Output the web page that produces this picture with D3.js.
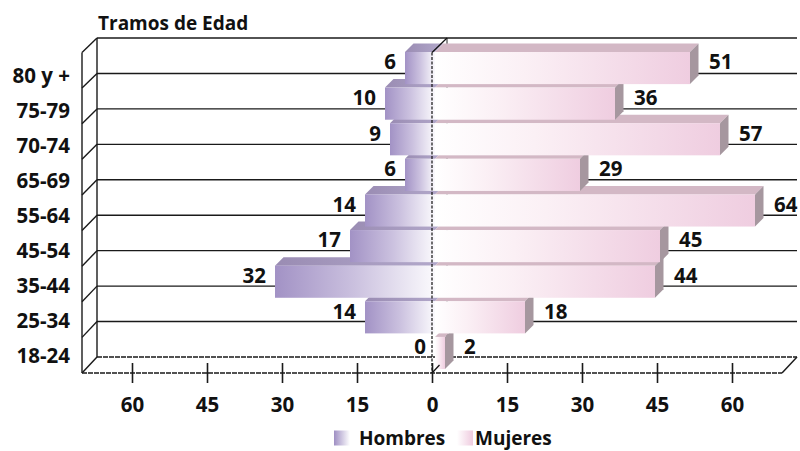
<!DOCTYPE html>
<html><head><meta charset="utf-8">
<script src="https://cdn.jsdelivr.net/npm/d3@7"></script>
<style>
html,body{margin:0;padding:0;background:#fff;}
text{font-family:"Open Sans",sans-serif;font-weight:700;fill:#111;}
</style></head>
<body><svg id="c" width="800" height="451"></svg>
<script>
const categories = ["80 y +","75-79","70-74","65-69","55-64","45-54","35-44","25-34","18-24"];
const hombres = [6,10,9,6,14,17,32,14,0];
const mujeres = [51,36,57,29,64,45,44,18,2];
const tickValues = [-60,-45,-30,-15,0,15,30,45,60];
const seriesNames = ["Hombres","Mujeres"];
const axisTitle = "Tramos de Edad";

const svg = d3.select("#c");
svg.append("rect").attr("width",800).attr("height",451).attr("fill","#fff");

// geometry
const floorY = 373, topY = 52.5;
const wallDX = 15, wallDY = 16;
const barDX = 8.5, barDY = 8.5, barSX = 3, barSY = 4;

const x = d3.scaleLinear().domain([-70,70]).range([82,782]);
const y = d3.scaleBand().domain(categories).range([topY, floorY]).paddingInner(0).paddingOuter(0);
const yl = d3.scalePoint().domain(categories).range([83,363]);

// defs
const defs = svg.append("defs");
function lg(id, stops){
  const g = defs.append("linearGradient").attr("id",id).attr("x1","0").attr("x2","1").attr("y1","0").attr("y2","0");
  stops.forEach(s=>g.append("stop").attr("offset",s[0]).attr("stop-color",s[1]));
}
lg("hFront",[[0,"#a292c5"],[0.5,"#cbc1df"],[1,"#fbfafd"]]);
lg("hTop",[[0,"#9a8cb3"],[1,"#b3a9cb"]]);
lg("mFront",[[0,"#ffffff"],[0.35,"#fbf0f5"],[1,"#efcde0"]]);
lg("hLeg",[[0,"#9f8fc3"],[1,"#ffffff"]]);
lg("mLeg",[[0,"#ffffff"],[1,"#efcbdf"]]);

const grid = svg.append("g");
const bstep = (floorY - wallDY - 38)/categories.length;
for(let k=1;k<=categories.length;k++){
  const yy = floorY - wallDY - k*bstep;
  grid.append("line").attr("x1",x(-70)+wallDX).attr("x2",x(70)+wallDX)
    .attr("y1",yy).attr("y2",yy).attr("stroke","#1a1a1a").attr("stroke-width",1.4);
}
// left wall
grid.append("line").attr("x1",x(-70)).attr("x2",x(-70)).attr("y1",topY).attr("y2",floorY).attr("stroke","#1a1a1a").attr("stroke-width",1.4);
grid.append("line").attr("x1",x(-70)+wallDX).attr("x2",x(-70)+wallDX).attr("y1",38).attr("y2",floorY-wallDY).attr("stroke","#1a1a1a").attr("stroke-width",1.4);
for(let k=0;k<=categories.length;k++){
  grid.append("line").attr("x1",x(-70)).attr("y1",floorY - k*y.bandwidth())
    .attr("x2",x(-70)+wallDX).attr("y2",floorY-wallDY-k*bstep).attr("stroke","#1a1a1a").attr("stroke-width",1.4);
}
// floor
grid.append("line").attr("x1",x(-70)).attr("x2",x(70)).attr("y1",floorY).attr("y2",floorY).attr("stroke","#1a1a1a").attr("stroke-width",1.4).attr("stroke-dasharray","5,1");
grid.append("line").attr("x1",x(-70)+wallDX).attr("x2",x(70)+wallDX).attr("y1",floorY-wallDY).attr("y2",floorY-wallDY).attr("stroke","#1a1a1a").attr("stroke-width",1.4).attr("stroke-dasharray","5,1");
grid.append("line").attr("x1",x(70)).attr("y1",floorY).attr("x2",x(70)+wallDX).attr("y2",floorY-wallDY).attr("stroke","#1a1a1a").attr("stroke-width",1.4);
// back zero line
grid.append("line").attr("x1",x(0)+wallDX).attr("x2",x(0)+wallDX).attr("y1",38).attr("y2",floorY-wallDY).attr("stroke","#222").attr("stroke-width",1);

// bars (bottom-up so upper bars overlap)
const bars = svg.append("g");
const pts = a => a.map(p=>p.join(",")).join(" ");
for(let i=categories.length-1;i>=0;i--){
  const c = categories[i];
  const y0 = y(c) - 0.5, y1 = y(c) + y.bandwidth() - barSY;
  const h = hombres[i];
  if(h>0){
    const x0 = x(-h)+barSX, x1 = x(0)+barSX;
    bars.append("polygon").attr("points",pts([[x0,y0],[x1,y0],[x1+barDX,y0-barDY],[x0+barDX,y0-barDY]])).attr("fill","url(#hTop)");
    bars.append("rect").attr("x",x0).attr("y",y0).attr("width",x1-x0).attr("height",y1-y0).attr("fill","url(#hFront)");
  }
  const m = mujeres[i];
  if(m>0){
    const x0 = x(0)+barSX, x1 = x(m)+barSX;
    bars.append("polygon").attr("points",pts([[x0,y0],[x1,y0],[x1+barDX,y0-barDY],[x0+barDX,y0-barDY]])).attr("fill","#d3b8c5");
    bars.append("polygon").attr("points",pts([[x1,y0],[x1+barDX,y0-barDY],[x1+barDX,y1-barDY],[x1,y1]])).attr("fill","#a6979f");
    bars.append("rect").attr("x",x0).attr("y",y0).attr("width",x1-x0).attr("height",y1-y0).attr("fill","url(#mFront)");
  }
}

// zero plane front
svg.append("line").attr("x1",x(0)).attr("x2",x(0)).attr("y1",topY).attr("y2",floorY).attr("stroke","#111").attr("stroke-width",1.2).attr("stroke-dasharray","3,1.5");
svg.append("line").attr("x1",x(0)).attr("y1",topY).attr("x2",x(0)+wallDX).attr("y2",38).attr("stroke","#111").attr("stroke-width",1.2);
svg.append("line").attr("x1",x(0)).attr("y1",floorY).attr("x2",x(0)+wallDX/2).attr("y2",floorY-wallDY/2).attr("stroke","#111").attr("stroke-width",1.2);

// value labels
const lab = svg.append("g").style("font-size","20.5px");
categories.forEach((c,i)=>{
  const cy = y(c) - 0.5 + (y.bandwidth()-barSY-0.5)/2 - barDY/2 + 6;
  lab.append("text").attr("x",x(-hombres[i])+barSX-9).attr("y",cy).attr("text-anchor","end").text(hombres[i]);
  lab.append("text").attr("x",x(mujeres[i])+barSX+barDX+10.5).attr("y",cy).attr("text-anchor","start").text(mujeres[i]);
});

// category labels
const cl = svg.append("g").style("font-size","20.5px");
categories.forEach(c=>{
  cl.append("text").attr("x",70).attr("y",yl(c)).attr("text-anchor","end").attr("xml:space","preserve").text(c);
});
svg.append("text").attr("x",98).attr("y",29.5).style("font-size","19px").text(axisTitle);

// x axis
const ax = svg.append("g").attr("transform",`translate(0,363)`)
  .call(d3.axisBottom(x).tickValues(tickValues).tickFormat(d=>Math.abs(d)).tickSizeInner(20).tickSizeOuter(0).tickPadding(14));
ax.select(".domain").remove();
ax.selectAll(".tick line").attr("stroke","#1a1a1a").attr("stroke-width",1.6);
ax.selectAll(".tick text").style("font-size","20.5px").style("font-family","'Open Sans',sans-serif").style("font-weight","700").attr("fill","#111");

// legend
const leg = svg.append("g").style("font-size","19px");
const legItems = [{name:seriesNames[0],fill:"url(#hLeg)",sx:334,tx:359},{name:seriesNames[1],fill:"url(#mLeg)",sx:457,tx:475}];
legItems.forEach(d=>{
  leg.append("rect").attr("x",d.sx).attr("y",430.5).attr("width",16).attr("height",15).attr("fill",d.fill);
  leg.append("text").attr("x",d.tx).attr("y",445).text(d.name);
});
</script></body></html>
